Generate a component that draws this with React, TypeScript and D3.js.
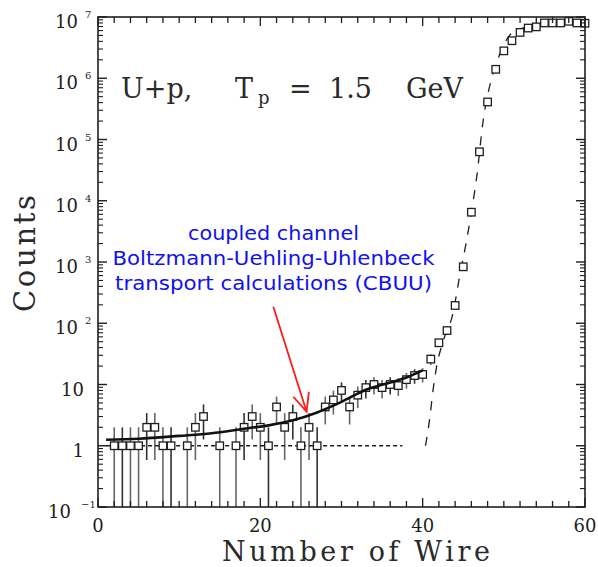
import React from "react";
import * as d3 from "d3";

// ---- data ----
const wires = [2, 3, 4, 5, 6, 7, 8, 9, 11, 12, 13, 15, 17, 18, 19, 20, 21, 22, 23, 24, 25, 26, 27, 28, 29, 30, 31, 32, 33, 34, 35, 36, 37, 38, 39, 40, 41, 42, 43, 44, 45, 46, 47, 48, 49, 50, 51, 52, 53, 54, 55, 56, 57, 58, 59, 60];
const counts = [1, 1, 1, 1, 2, 2, 1, 1, 1, 2, 3, 1, 1, 2, 3, 2, 1, 4.3, 2, 3, 1, 2, 1, 4.3, 5.6, 8, 4.3, 6.7, 8.9, 10, 8.9, 10, 9.6, 12, 14, 14.6, 26, 48, 76, 195, 835, 6500, 63000, 410000, 1.4e6, 2.8e6, 4.1e6, 5.6e6, 6.6e6, 6.9e6, 8e6, 8e6, 8e6, 8.5e6, 8e6, 7.9e6];

// CBUU calculation (solid curve)
const cbuuWire = [1, 5, 10, 14, 18, 21, 24, 27, 30, 33, 36, 38, 40];
const cbuuCounts = [1.25, 1.3, 1.45, 1.6, 1.9, 2.15, 2.6, 3.5, 5.2, 8.2, 10.8, 13, 17];

// steep fit (long dashes)
const fitWire = [40.35, 40.9, 41.3, 41.7, 42.5, 43.7, 44.6, 45.4, 46.0, 46.7, 47.4, 48.5, 49.3, 50.7, 52, 54, 57, 60];
const fitCounts = [1, 3, 8.5, 19, 50, 140, 630, 2200, 6500, 27000, 180000, 1.0e6, 2.1e6, 5.0e6, 6.4e6, 7.2e6, 7.5e6, 7.6e6];

// flat level (short dashes)
const flatWire = [1, 37.5];
const flatCounts = [1, 1];

// ticks
const xTickLabels = [0, 20, 40, 60];
const yTickExponents = [-1, 0, 1, 2, 3, 4, 5, 6, 7];

// annotation arrow (data coords): from, to
const arrowWire = [21.6, 25.7];
const arrowCounts = [186, 3.6];

const annotationLines = [
  "coupled channel",
  "Boltzmann-Uehling-Uhlenbeck",
  "transport calculations (CBUU)",
];

export default function App() {
  const W = 598, H = 567;
  const left = 98, right = 585, top = 17, bottom = 507;
  const x = d3.scaleLinear().domain([0, 60]).range([left, right]);
  const y = d3.scaleLog().domain([0.1, 1e7]).range([bottom, top]);
  const ink = "#1e1e1e";
  const serif = "'DejaVu Serif', serif";

  const line = d3
    .line<[number, number]>()
    .x((d) => x(d[0]))
    .y((d) => y(d[1]))
    .curve(d3.curveMonotoneX);

  const cbuu = cbuuWire.map((w, i) => [w, cbuuCounts[i]] as [number, number]);
  const fit = fitWire.map((w, i) => [w, fitCounts[i]] as [number, number]);
  const flat = flatWire.map((w, i) => [w, flatCounts[i]] as [number, number]);

  // minor ticks
  const yMinor: number[] = [];
  for (let e = -1; e < 7; e++) for (let k = 2; k <= 9; k++) yMinor.push(k * Math.pow(10, e));
  const xMinor = d3.range(0, 61, 2);

  const pts = wires.map((w, i) => ({ w, c: counts[i] }));

  // arrow geometry
  const ax0 = x(arrowWire[0]), ay0 = y(arrowCounts[0]);
  const ax1 = x(arrowWire[1]), ay1 = y(arrowCounts[1]);
  const ang = Math.atan2(ay1 - ay0, ax1 - ax0);
  const wing = 20, spread = 0.42;
  const w1 = [ax1 - wing * Math.cos(ang - spread), ay1 - wing * Math.sin(ang - spread)];
  const w2 = [ax1 - wing * Math.cos(ang + spread), ay1 - wing * Math.sin(ang + spread)];

  const sq = 7.5;
  const annoWidths = [171, 322, 317];

  return (
    <svg width={W} height={H} style={{ position: "absolute", left: 0, top: 0, background: "#fff" }}>
      <rect x={0} y={0} width={W} height={H} fill="#fff" />

      {/* error bars */}
      {pts.map((p, i) => {
        const e = Math.sqrt(p.c);
        const lo = Math.max(p.c - e, 0.1);
        const hi = p.c + e;
        return (
          <line key={"e" + i} x1={x(p.w)} x2={x(p.w)} y1={y(hi)} y2={y(lo)} stroke={i % 3 === 1 ? "#333" : "#666"} strokeWidth={1.6} />
        );
      })}

      {/* flat dashed line */}
      <path d={line(flat) || ""} fill="none" stroke={ink} strokeWidth={1.3} strokeDasharray="4,3" />

      {/* fit dashed */}
      <path d={line(fit) || ""} fill="none" stroke={ink} strokeWidth={1.3} strokeDasharray="9,9" />

      {/* squares */}
      {pts.map((p, i) => (
        <rect key={"s" + i} x={x(p.w) - sq / 2} y={y(p.c) - sq / 2} width={sq} height={sq} fill="#fff" stroke={ink} strokeWidth={1.3} />
      ))}

      {/* CBUU solid */}
      <path d={line(cbuu) || ""} fill="none" stroke="#111" strokeWidth={2.6} />

      {/* frame */}
      <rect x={left} y={top} width={right - left} height={bottom - top} fill="none" stroke={ink} strokeWidth={1.6} />

      {/* y ticks */}
      {yTickExponents.map((e) => {
        const yy = y(Math.pow(10, e));
        return (
          <g key={"ym" + e}>
            <line x1={left} x2={left + 9} y1={yy} y2={yy} stroke={ink} strokeWidth={1.4} />
            <line x1={right} x2={right - 9} y1={yy} y2={yy} stroke={ink} strokeWidth={1.4} />
          </g>
        );
      })}
      {yMinor.map((v, i) => (
        <g key={"yn" + i}>
          <line x1={left} x2={left + 5} y1={y(v)} y2={y(v)} stroke={ink} strokeWidth={1.1} />
          <line x1={right} x2={right - 5} y1={y(v)} y2={y(v)} stroke={ink} strokeWidth={1.1} />
        </g>
      ))}

      {/* x ticks */}
      {xMinor.map((v) => {
        const major = v % 20 === 0;
        const len = major ? 9 : 6;
        return (
          <g key={"xt" + v}>
            <line x1={x(v)} x2={x(v)} y1={bottom} y2={bottom - len} stroke={ink} strokeWidth={1.3} />
            <line x1={x(v)} x2={x(v)} y1={top} y2={top + len} stroke={ink} strokeWidth={1.3} />
          </g>
        );
      })}

      {/* y tick labels */}
      {yTickExponents.map((e) => {
        const yy = y(Math.pow(10, e));
        if (e === 0 || e === 1) {
          return (
            <text key={"yl" + e} x={84} y={yy + 11} textAnchor="end" fontFamily={serif} fontSize={18} fill={ink}>
              {e === 0 ? "1" : "10"}
            </text>
          );
        }
        const neg = e < 0;
        return (
          <g key={"yl" + e}>
            <text x={neg ? 71 : 78} y={yy + 11} textAnchor="end" fontFamily={serif} fontSize={18} fill={ink}>
              10
            </text>
            <text x={neg ? 81 : 85} y={yy + 1} textAnchor="start" fontFamily={serif} fontSize={10} fill={ink}>
              {neg ? "\u2212" + Math.abs(e) : String(e)}
            </text>
          </g>
        );
      })}

      {/* x tick labels */}
      {xTickLabels.map((v) => (
        <text key={"xl" + v} x={x(v)} y={532} textAnchor="middle" fontFamily={serif} fontSize={18} fill={ink}>
          {v}
        </text>
      ))}

      {/* axis titles */}
      <text x={222} y={561} fontFamily={serif} fontSize={27} fill="#2a2a2a" textLength={268} lengthAdjust="spacing">
        Number of Wire
      </text>
      <text
        transform={`translate(35,${312}) rotate(-90)`}
        fontFamily={serif}
        fontSize={29}
        fill="#2a2a2a"
        textLength={117}
        lengthAdjust="spacing"
      >
        Counts
      </text>

      {/* reaction label */}
      <g fontFamily={serif} fontSize={27} fill="#2a2a2a">
        <text x={121} y={98}>U+p,</text>
        <text x={235} y={98}>T</text>
        <text x={258} y={104} fontSize={18}>p</text>
        <text x={289} y={98}>=</text>
        <text x={329} y={98}>1.5</text>
        <text x={406} y={98}>GeV</text>
      </g>

      {/* blue annotation */}
      <g fontFamily="'DejaVu Sans', Verdana, sans-serif" fontSize={20} fill="#1010f0" textAnchor="middle">
        {annotationLines.map((t, i) => (
          <text key={"a" + i} x={273.5} y={240 + i * 25} textLength={annoWidths[i]} lengthAdjust="spacingAndGlyphs">
            {t}
          </text>
        ))}
      </g>

      {/* red arrow */}
      <line x1={ax0} y1={ay0} x2={ax1} y2={ay1} stroke="#ff1a1a" strokeWidth={1.8} />
      <polyline
        points={`${w1[0]},${w1[1]} ${ax1},${ay1} ${w2[0]},${w2[1]}`}
        fill="none"
        stroke="#ff1a1a"
        strokeWidth={1.8}
      />
    </svg>
  );
}
